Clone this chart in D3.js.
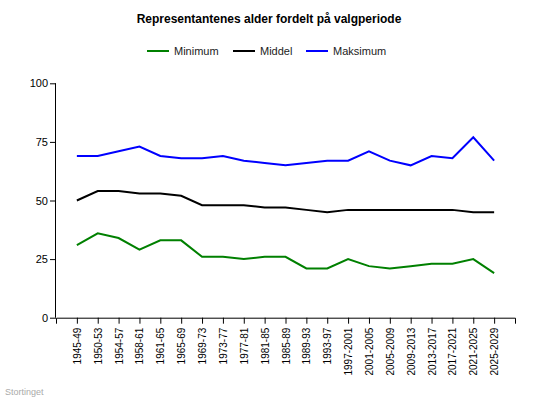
<!DOCTYPE html>
<html><head><meta charset="utf-8">
<script src="https://cdn.jsdelivr.net/npm/d3@7"></script>
<style>
body{margin:0;background:#fff;}
svg{font-family:"Liberation Sans",Arial,sans-serif;}
</style></head>
<body><svg id="c" width="540" height="400"></svg>
<script>
const periods = ["1945-49","1950-53","1954-57","1958-61","1961-65","1965-69","1969-73","1973-77","1977-81","1981-85","1985-89","1989-93","1993-97","1997-2001","2001-2005","2005-2009","2009-2013","2013-2017","2017-2021","2021-2025","2025-2029"];
const minimum = [31,36,34,29,33,33,26,26,25,26,26,21,21,25,22,21,22,23,23,25,19];
const middel  = [50,54,54,53,53,52,48,48,48,47,47,46,45,46,46,46,46,46,46,45,45];
const maksimum= [69,69,71,73,69,68,68,69,67,66,65,66,67,67,71,67,65,69,68,77,67];
const seriesNames = ["Minimum","Middel","Maksimum"];
const seriesColors = ["#008000","#000000","#0000ff"];
const yTicks = [0,25,50,75,100];

const series = [minimum, middel, maksimum];
const svg = d3.select("#c");
const x = d3.scalePoint().domain(periods).range([56,515]).padding(1);
const y = d3.scaleLinear().domain([0,100]).range([317.7,83.3]);

svg.append("text").attr("x",269).attr("y",23).attr("text-anchor","middle")
  .attr("font-size","12px").attr("font-weight","bold").attr("fill","#000")
  .text("Representantenes alder fordelt på valgperiode");

// legend
const legX = [147,233,306];
seriesNames.forEach((n,i)=>{
  const g = svg.append("g").attr("transform",`translate(${legX[i]},51)`);
  g.append("line").attr("x1",0).attr("x2",22).attr("y1",0).attr("y2",0)
    .attr("stroke",seriesColors[i]).attr("stroke-width",2);
  g.append("text").attr("x",27).attr("y",4).attr("font-size","11px").attr("fill","#222").text(n);
});

// axes
const ya = svg.append("g").attr("transform","translate(56,0)")
  .call(d3.axisLeft(y).tickValues(yTicks).tickSize(6).tickPadding(2).tickSizeOuter(0));
ya.selectAll("text").attr("font-size","11px").attr("font-family","Liberation Sans, Arial, sans-serif").attr("fill","#000");
ya.select(".domain").attr("d","M-0.5,83.3V317.7").attr("stroke","#000");

const xa = svg.append("g").attr("transform","translate(0,317.7)")
  .call(d3.axisBottom(x).tickSize(6).tickSizeOuter(6));
xa.selectAll("text").attr("font-size","10px").attr("font-family","Liberation Sans, Arial, sans-serif").attr("fill","#000")
  .attr("transform","rotate(-90)").attr("x",-10).attr("y",0).attr("dy","0.35em").style("text-anchor","end");

// lines
const line = d3.line().x((d,i)=>x(periods[i])).y(d=>y(d));
series.forEach((s,i)=>{
  svg.append("path").datum(s).attr("d",line).attr("fill","none")
    .attr("stroke",seriesColors[i]).attr("stroke-width",2);
});

svg.append("text").attr("x",5).attr("y",395).attr("font-size","9px").attr("fill","#aaa").text("Stortinget");
</script></body></html>
